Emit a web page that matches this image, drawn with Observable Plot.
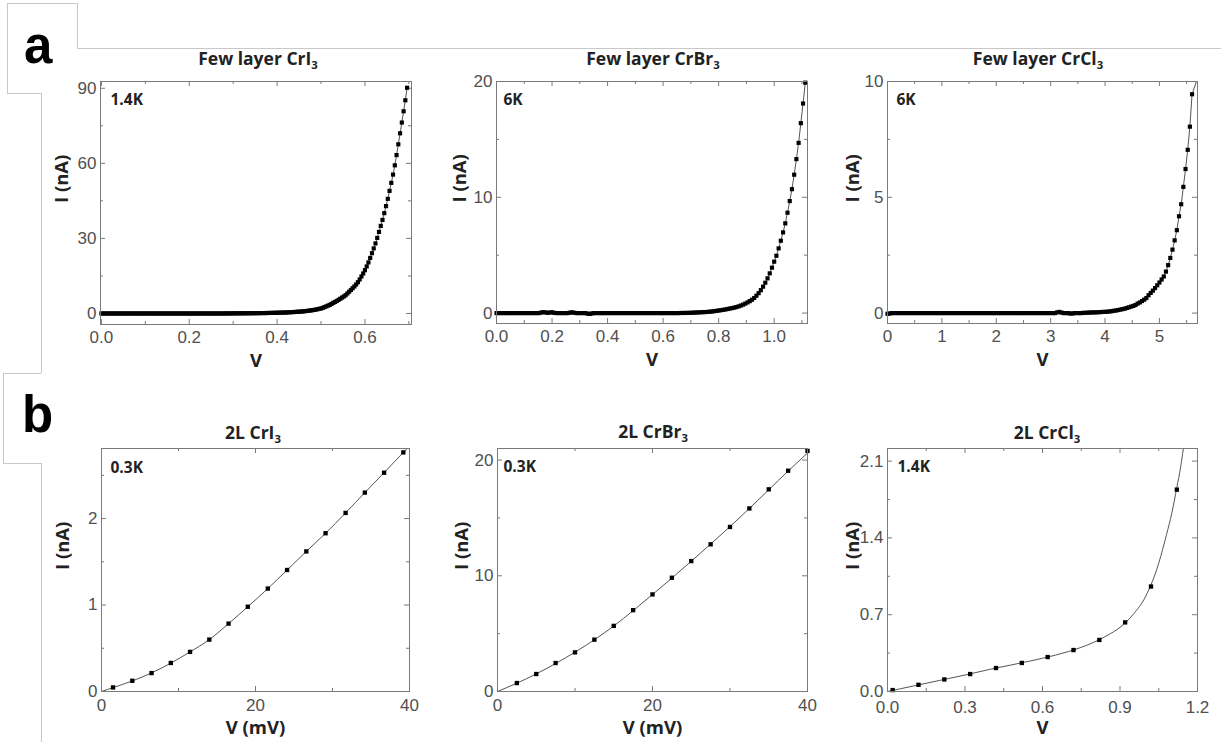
<!DOCTYPE html>
<html><head><meta charset="utf-8">
<script src="https://cdn.jsdelivr.net/npm/d3@7"></script>
<script src="https://cdn.jsdelivr.net/npm/@observablehq/plot@0.6"></script>
<style>
html,body{margin:0;padding:0;background:#fff;}
#root{position:relative;width:1221px;height:746px;overflow:hidden;background:#fff;}
.title{position:absolute;font-family:"Open Sans",sans-serif;font-weight:700;font-size:17.5px;color:#222;white-space:nowrap;transform:translate(-50%,-50%);line-height:1}
.title sub{font-size:0.65em;vertical-align:-0.3em;line-height:0}
.letter{position:absolute;font-family:"Liberation Sans",Arial,sans-serif;font-weight:700;font-size:51px;color:#000;line-height:1}
.hl{position:absolute;height:0;border-top:1px solid #c8c8c8}
.vl{position:absolute;width:0;border-left:1px solid #c8c8c8}
</style></head>
<body><div id="root"></div>
<script>
// ---------- data ----------
// (a) few layer CrI3, 1.4 K
const a1V = [0,0.004,0.008,0.012,0.016,0.02,0.024,0.028,0.032,0.036,
0.04,0.044,0.048,0.052,0.056,0.06,0.064,0.068,0.072,0.076,
0.08,0.084,0.088,0.092,0.096,0.1,0.104,0.108,0.112,0.116,
0.12,0.124,0.128,0.132,0.136,0.14,0.144,0.148,0.152,0.156,
0.16,0.164,0.168,0.172,0.176,0.18,0.184,0.188,0.192,0.196,
0.2,0.204,0.208,0.212,0.216,0.22,0.224,0.228,0.232,0.236,
0.24,0.244,0.248,0.252,0.256,0.26,0.264,0.268,0.272,0.276,
0.28,0.284,0.288,0.292,0.296,0.3,0.304,0.308,0.312,0.316,
0.32,0.324,0.328,0.332,0.336,0.34,0.344,0.348,0.352,0.356,
0.36,0.364,0.368,0.372,0.376,0.38,0.384,0.388,0.392,0.396,
0.4,0.404,0.408,0.412,0.416,0.42,0.424,0.428,0.432,0.436,
0.44,0.444,0.448,0.452,0.456,0.46,0.464,0.468,0.472,0.476,
0.48,0.484,0.488,0.492,0.496,0.5,0.504,0.508,0.512,0.516,
0.52,0.524,0.528,0.532,0.536,0.54,0.544,0.548,0.552,0.556,
0.56,0.564,0.568,0.572,0.576,0.58,0.584,0.588,0.592,0.596,
0.6,0.604,0.608,0.612,0.616,0.62,0.624,0.628,0.632,0.636,
0.64,0.644,0.648,0.652,0.656,0.66,0.664,0.668,0.672,0.676,
0.68,0.684,0.688,0.692,0.696];
const a1I = [0,0,0,0,0,0,0,0,0,0,
0,0,0,0,0,0,0,0,0,0,
0,0,0,0,0,0,0,0,0,0,
0,0,0,0,0,0,0,0,0,0,
0,0,0,0,0,0,0,0,0,0,
0,0,0,0,0,0,0,0,0,0,
0,0,0,0,0,0,0,0,0,0,
0.01,0.02,0.03,0.03,0.04,0.05,0.05,0.06,0.07,0.07,
0.08,0.08,0.09,0.09,0.1,0.1,0.11,0.12,0.13,0.14,
0.15,0.16,0.17,0.18,0.19,0.2,0.22,0.24,0.26,0.28,
0.3,0.32,0.34,0.36,0.38,0.4,0.44,0.48,0.52,0.56,
0.6,0.65,0.7,0.75,0.8,0.85,0.93,1.02,1.12,1.2,
1.3,1.42,1.55,1.7,1.85,2,2.25,2.55,2.85,3.15,
3.45,3.85,4.25,4.6,5,5.45,5.9,6.35,6.8,7.3,
8,8.7,9.4,10.1,10.8,11.6,12.5,13.6,14.8,16,
17.3,18.8,20.4,22.2,24.1,26,28,30.2,32.6,35,
37.4,40.1,42.9,45.8,49,52.2,55.5,59.2,63.3,67.6,
72,76.3,80.8,85.2,90.2];
const a1TailV = [], a1TailI = [];

// (a) few layer CrBr3, 6 K
const a2V = [0,0.008,0.016,0.024,0.032,0.04,0.048,0.056,0.064,0.072,
0.08,0.088,0.096,0.104,0.112,0.12,0.128,0.136,0.144,0.152,
0.16,0.168,0.176,0.184,0.192,0.2,0.208,0.216,0.224,0.232,
0.24,0.248,0.256,0.264,0.272,0.28,0.288,0.296,0.304,0.312,
0.32,0.328,0.336,0.344,0.352,0.36,0.368,0.376,0.384,0.392,
0.4,0.408,0.416,0.424,0.432,0.44,0.448,0.456,0.464,0.472,
0.48,0.488,0.496,0.504,0.512,0.52,0.528,0.536,0.544,0.552,
0.56,0.568,0.576,0.584,0.592,0.6,0.608,0.616,0.624,0.632,
0.64,0.648,0.656,0.664,0.672,0.68,0.688,0.696,0.704,0.712,
0.72,0.728,0.736,0.744,0.752,0.76,0.768,0.776,0.784,0.792,
0.8,0.808,0.816,0.824,0.832,0.84,0.848,0.856,0.864,0.872,
0.88,0.888,0.896,0.904,0.912,0.92,0.928,0.936,0.944,0.952,
0.96,0.968,0.976,0.984,0.992,1,1.008,1.016,1.024,1.032,
1.04,1.048,1.056,1.064,1.072,1.08,1.088,1.096,1.104,1.112];
const a2I = [0,0,0,0,0,0,0,0,0,0,
0,0,0,0,0,0,0,0,0,0,
0.04,0.08,0.06,0.02,0.05,0.07,0.02,0,0,0,
0,0,0,0.04,0.06,0.03,0,0,0,0,
0,-0.05,-0.07,-0.03,0,0,0,0,0,0,
0,0,0,0,0,0,0,0,0,0,
0,0,0,0,0,0,0,0,0,0,
0,0,0,0,0,0,0,0,0,0,
0,0,0,0.01,0.01,0.01,0.02,0.02,0.03,0.04,
0.05,0.06,0.07,0.08,0.09,0.1,0.12,0.14,0.16,0.19,
0.22,0.25,0.28,0.31,0.35,0.39,0.43,0.47,0.52,0.58,
0.65,0.73,0.82,0.92,1.03,1.15,1.3,1.5,1.72,1.98,
2.28,2.62,3,3.43,3.92,4.44,4.95,5.59,6.25,6.97,
7.75,8.67,9.67,10.7,11.95,13.3,14.7,16.4,18.1,19.9];
const a2TailV = [1.118], a2TailI = [20];

// (a) few layer CrCl3, 6 K
const a3V = [0,0.04,0.08,0.12,0.16,0.2,0.24,0.28,0.32,0.36,
0.4,0.44,0.48,0.52,0.56,0.6,0.64,0.68,0.72,0.76,
0.8,0.84,0.88,0.92,0.96,1,1.04,1.08,1.12,1.16,
1.2,1.24,1.28,1.32,1.36,1.4,1.44,1.48,1.52,1.56,
1.6,1.64,1.68,1.72,1.76,1.8,1.84,1.88,1.92,1.96,
2,2.04,2.08,2.12,2.16,2.2,2.24,2.28,2.32,2.36,
2.4,2.44,2.48,2.52,2.56,2.6,2.64,2.68,2.72,2.76,
2.8,2.84,2.88,2.92,2.96,3,3.04,3.08,3.12,3.16,
3.2,3.24,3.28,3.32,3.36,3.4,3.44,3.48,3.52,3.56,
3.6,3.64,3.68,3.72,3.76,3.8,3.84,3.88,3.92,3.96,
4,4.04,4.08,4.12,4.16,4.2,4.24,4.28,4.32,4.36,
4.4,4.44,4.48,4.52,4.56,4.6,4.64,4.68,4.72,4.76,
4.8,4.84,4.88,4.92,4.96,5,5.04,5.08,5.12,5.16,
5.2,5.24,5.28,5.32,5.36,5.4,5.44,5.48,5.52,5.56,
5.6];
const a3I = [-0.03,-0.02,0,0,0,0,0,0,0,0,
0,0,0,0,0,0,0,0,0,0,
0,0,0,0,0,0,0,0,0,0,
0,0,0,0,0,0,0,0,0,0,
0,0,0,0,0,0,0,0,0,0,
0,0,0,0,0,0,0,0,0,0,
0,0,0,0,0,0,0,0,0,0,
0,0,0,0,0,0,0,0,0.03,0.05,
0.02,0,0,0,-0.02,-0.02,0,0,0,0,
0.01,0.01,0.02,0.02,0.03,0.03,0.03,0.04,0.04,0.05,
0.05,0.06,0.07,0.08,0.1,0.11,0.13,0.15,0.17,0.19,
0.22,0.25,0.28,0.31,0.35,0.41,0.46,0.52,0.58,0.65,
0.77,0.87,0.97,1.08,1.2,1.32,1.45,1.58,1.79,2.07,
2.38,2.74,3.14,3.58,4.18,4.7,5.45,6.22,7.05,8.05,
9.45];
const a3TailV = [5.68], a3TailI = [10];

// (b) 2L CrI3, 0.3 K (V in mV)
const b1V = [1.5,4,6.5,9,11.5,14,16.5,19,21.6,24.1,26.6,29.1,31.7,34.2,36.7,39.2];
const b1I = [0.047,0.124,0.213,0.33,0.458,0.6,0.785,0.98,1.19,1.405,1.62,1.83,2.065,2.3,2.53,2.765];
const b1FitV = [0,1.5,4,6.5,9,11.5,14,16.5,19,21.6,24.1,26.6,29.1,31.7,34.2,36.7,39.2,40];
const b1FitI = [0,0.045,0.122,0.215,0.328,0.458,0.6,0.785,0.98,1.19,1.405,1.62,1.83,2.065,2.3,2.53,2.765,2.84];

// (b) 2L CrBr3, 0.3 K (V in mV)
const b2V = [2.5,5,7.5,10,12.5,15,17.5,20,22.5,25,27.5,30,32.5,35,37.5,40];
const b2I = [0.73,1.51,2.46,3.38,4.48,5.67,7.03,8.39,9.83,11.27,12.72,14.22,15.82,17.47,19.08,20.79];
const b2FitV = [0,2.5,5,7.5,10,12.5,15,17.5,20,22.5,25,27.5,30,32.5,35,37.5,40];
const b2FitI = [0,0.72,1.52,2.42,3.4,4.47,5.66,6.99,8.38,9.8,11.26,12.74,14.25,15.82,17.43,19.05,20.6];

// (b) 2L CrCl3, 1.4 K
const b3V = [0.02,0.12,0.22,0.32,0.42,0.52,0.62,0.72,0.82,0.92,1.02,1.12];
const b3I = [0.013,0.061,0.11,0.159,0.214,0.26,0.314,0.378,0.47,0.63,0.957,1.84];
const b3FitV = [0,0.1,0.2,0.3,0.4,0.5,0.6,0.7,0.8,0.85,0.9,0.95,1,1.05,1.08,1.1,1.12,1.135,1.145];
const b3FitI = [0,0.05,0.1,0.15,0.204,0.252,0.303,0.364,0.45,0.51,0.585,0.7,0.87,1.17,1.43,1.62,1.86,2.05,2.21];

// ---------- layout ----------
const root = document.getElementById("root");
const ML = 70, MT = 10, MR = 15, MB = 60;
const f1 = d3.format(".1f"), fd = d3.format("d");
const TICKFONT = "'Liberation Sans', Arial, sans-serif";
const LABELFONT = "'Open Sans', sans-serif";

function zip(V, I) { return V.map((v, k) => ({v, i: I[k]})); }

function panel(c) {
  const w = c.frame[2] - c.frame[0], h = c.frame[3] - c.frame[1];
  const pts = zip(c.V, c.I);
  const line = zip(c.LV, c.LI);
  const ts = "#7a7a7a";
  const svg = Plot.plot({
    width: w + ML + MR, height: h + MT + MB,
    marginLeft: ML, marginTop: MT, marginRight: MR, marginBottom: MB,
    x: {domain: c.xDomain}, y: {domain: c.yDomain},
    style: {background: "transparent", fontFamily: TICKFONT, fontSize: "16px", color: "#505050", overflow: "visible"},
    marks: [
      Plot.tickX(c.xMajor, {x: d => d, insetTop: h - 5, stroke: ts}),
      Plot.tickX(c.xMajor, {x: d => d, insetBottom: h - 5, stroke: ts}),
      Plot.tickX(c.xMinor, {x: d => d, insetTop: h - 3, stroke: ts}),
      Plot.tickX(c.xMinor, {x: d => d, insetBottom: h - 3, stroke: ts}),
      Plot.tickY(c.yMajor, {y: d => d, insetRight: w - 5, stroke: ts}),
      Plot.tickY(c.yMajor, {y: d => d, insetLeft: w - 5, stroke: ts}),
      Plot.tickY(c.yMinor, {y: d => d, insetRight: w - 3, stroke: ts}),
      Plot.tickY(c.yMinor, {y: d => d, insetLeft: w - 3, stroke: ts}),
      Plot.axisX(c.xMajor, {tickSize: 0, tickPadding: c.xPad, tickFormat: c.xFmt, label: null, fontFamily: TICKFONT, fontSize: 17, fill: "#505050"}),
      Plot.axisY(c.yMajor, {tickSize: 0, tickPadding: 4, tickFormat: c.yFmt, label: null, fontFamily: TICKFONT, fontSize: 17, fill: "#505050"}),
      Plot.line(line, {x: "v", y: "i", stroke: "#555", strokeWidth: 1, curve: c.curve, clip: true}),
      Plot.dot(pts, {x: "v", y: "i", symbol: "square", r: c.r, fill: "#000", stroke: null}),
      Plot.frame({stroke: "#7a7a7a"}),
      Plot.text([c.xLabel], {frameAnchor: "bottom", dy: 37, lineAnchor: "middle", fontFamily: LABELFONT, fontWeight: 700, fontSize: 18.5, fill: "#222"}),
      Plot.text(["I (nA)"], {frameAnchor: "left", dx: c.ylabDx, rotate: -90, lineAnchor: "middle", fontFamily: LABELFONT, fontWeight: 700, fontSize: 18.5, fill: "#222"}),
      Plot.text([c.temp], {frameAnchor: "top-left", dx: c.tempDx, dy: c.tempDy, textAnchor: "start", lineAnchor: "middle", fontFamily: LABELFONT, fontWeight: 700, fontSize: 15.5, fill: "#222"})
    ]
  });
  svg.style.position = "absolute";
  svg.style.left = (c.frame[0] - ML) + "px";
  svg.style.top = (c.frame[1] - MT) + "px";
  root.append(svg);
  const t = document.createElement("div");
  t.className = "title";
  t.innerHTML = c.title;
  t.style.left = c.titlePos[0] + "px";
  t.style.top = c.titlePos[1] + "px";
  root.append(t);
}

panel({frame: [100, 81, 411, 324], xDomain: [-0.002, 0.706], yDomain: [-4.4, 92.7],
  xMajor: [0, 0.2, 0.4, 0.6], xMinor: [0.1, 0.3, 0.5, 0.7], yMajor: [0, 30, 60, 90], yMinor: [15, 45, 75],
  xFmt: f1, yFmt: fd, xPad: 6, V: a1V, I: a1I, LV: a1V.concat(a1TailV), LI: a1I.concat(a1TailI), curve: "linear", r: 2.35,
  xLabel: "V", ylabDx: -38, temp: "1.4K", tempDx: 10, tempDy: 19,
  title: "Few layer CrI<sub>3</sub>", titlePos: [258, 59]});
panel({frame: [496, 81, 807, 323], xDomain: [0, 1.12], yDomain: [-0.9, 20],
  xMajor: [0, 0.2, 0.4, 0.6, 0.8, 1.0], xMinor: [0.1, 0.3, 0.5, 0.7, 0.9, 1.1], yMajor: [0, 10, 20], yMinor: [5, 15],
  xFmt: f1, yFmt: fd, xPad: 6, V: a2V, I: a2I, LV: a2V.concat(a2TailV), LI: a2I.concat(a2TailI), curve: "linear", r: 2.35,
  xLabel: "V", ylabDx: -36, temp: "6K", tempDx: 7, tempDy: 19,
  title: "Few layer CrBr<sub>3</sub>", titlePos: [653, 59]});
panel({frame: [887, 81, 1197, 323], xDomain: [0, 5.7], yDomain: [-0.45, 10],
  xMajor: [0, 1, 2, 3, 4, 5], xMinor: [0.5, 1.5, 2.5, 3.5, 4.5, 5.5], yMajor: [0, 5, 10], yMinor: [2.5, 7.5],
  xFmt: fd, yFmt: fd, xPad: 6, V: a3V, I: a3I, LV: a3V.concat(a3TailV), LI: a3I.concat(a3TailI), curve: "linear", r: 2.35,
  xLabel: "V", ylabDx: -34, temp: "6K", tempDx: 9, tempDy: 19,
  title: "Few layer CrCl<sub>3</sub>", titlePos: [1038, 59]});
panel({frame: [101, 448, 409, 691], xDomain: [0, 40], yDomain: [0, 2.81],
  xMajor: [0, 20, 40], xMinor: [10, 30], yMajor: [0, 1, 2], yMinor: [0.5, 1.5, 2.5],
  xFmt: fd, yFmt: fd, xPad: 7, V: b1V, I: b1I, LV: b1FitV, LI: b1FitI, curve: "monotone-x", r: 2.45,
  xLabel: "V (mV)", ylabDx: -38, temp: "0.3K", tempDx: 9, tempDy: 20,
  title: "2L CrI<sub>3</sub>", titlePos: [253, 433]});
panel({frame: [497, 448, 807, 691], xDomain: [0, 40], yDomain: [0, 21],
  xMajor: [0, 20, 40], xMinor: [10, 30], yMajor: [0, 10, 20], yMinor: [5, 15],
  xFmt: fd, yFmt: fd, xPad: 7, V: b2V, I: b2I, LV: b2FitV, LI: b2FitI, curve: "monotone-x", r: 2.45,
  xLabel: "V (mV)", ylabDx: -35, temp: "0.3K", tempDx: 6, tempDy: 19,
  title: "2L CrBr<sub>3</sub>", titlePos: [653, 432]});
panel({frame: [887, 448, 1197, 691], xDomain: [0, 1.2], yDomain: [0, 2.215],
  xMajor: [0, 0.3, 0.6, 0.9, 1.2], xMinor: [0.15, 0.45, 0.75, 1.05], yMajor: [0, 0.7, 1.4, 2.1], yMinor: [0.35, 1.05, 1.75],
  xFmt: f1, yFmt: f1, xPad: 9, V: b3V, I: b3I, LV: b3FitV, LI: b3FitI, curve: "monotone-x", r: 2.45,
  xLabel: "V", ylabDx: -34, temp: "1.4K", tempDx: 10, tempDy: 19,
  title: "2L CrCl<sub>3</sub>", titlePos: [1047, 433]});

// panel letters and slide outline
function el(cls, css, html) {
  const d = document.createElement("div");
  d.className = cls;
  Object.assign(d.style, css);
  if (html) d.textContent = html;
  root.append(d);
}
el("letter", {left: "24px", top: "20px"}, "a");
el("letter", {left: "22px", top: "389px"}, "b");
el("hl", {left: "7px", top: "3px", width: "70px"});
el("vl", {left: "77px", top: "3px", height: "45px"});
el("hl", {left: "77px", top: "48px", width: "1144px"});
el("vl", {left: "7px", top: "3px", height: "90px"});
el("hl", {left: "7px", top: "93px", width: "34px"});
el("vl", {left: "41px", top: "93px", height: "280px"});
el("hl", {left: "3px", top: "373px", width: "38px"});
el("vl", {left: "3px", top: "373px", height: "90px"});
el("hl", {left: "3px", top: "463px", width: "38px"});
el("vl", {left: "41px", top: "463px", height: "279px"});
</script>
</body></html>
